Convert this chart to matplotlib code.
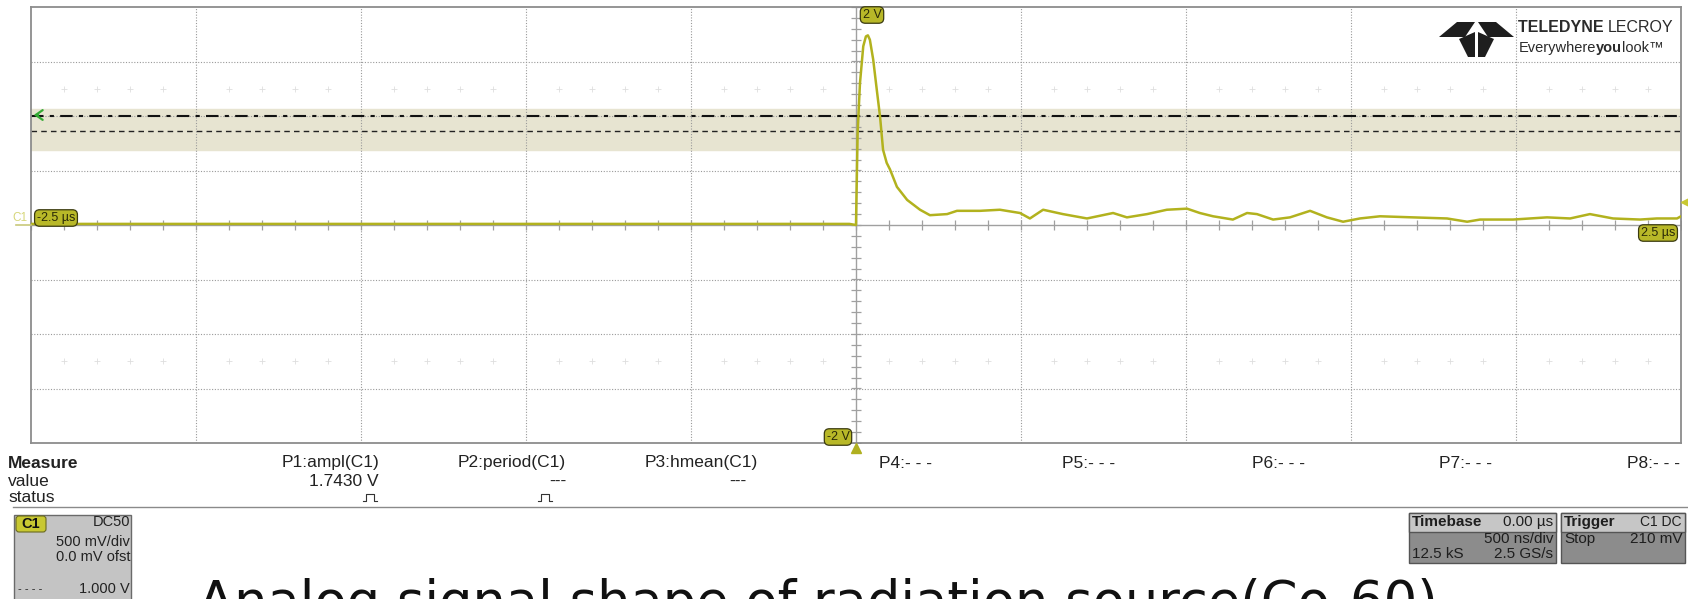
import numpy as np
import matplotlib
matplotlib.use("Agg")
import matplotlib.pyplot as plt
from matplotlib.patches import Rectangle, Polygon, FancyBboxPatch

plt.rcParams['font.family'] = ['Liberation Sans', 'DejaVu Sans']

# captured trace (time in us, amplitude in V)
t_us = [-2.5, -2.0, -1.5, -1.0, -0.5, -0.02, 0.0, 0.002, 0.005, 0.012, 0.022,
        0.030, 0.036, 0.042, 0.052, 0.063, 0.073, 0.082, 0.093, 0.103, 0.124,
        0.155, 0.194, 0.224, 0.276, 0.306, 0.376, 0.436, 0.497, 0.527, 0.567,
        0.627, 0.700, 0.779, 0.821, 0.882, 0.942, 1.003, 1.042, 1.082, 1.142,
        1.185, 1.215, 1.264, 1.315, 1.376, 1.427, 1.476, 1.527, 1.588, 1.688,
        1.791, 1.852, 1.891, 1.991, 2.094, 2.164, 2.224, 2.294, 2.376, 2.427,
        2.488, 2.5]
volts = [0.01, 0.01, 0.01, 0.01, 0.01, 0.01, 0.0, 0.35, 0.85, 1.30, 1.64,
         1.73, 1.74, 1.70, 1.52, 1.24, 0.99, 0.69, 0.57, 0.51, 0.35,
         0.23, 0.14, 0.09, 0.10, 0.13, 0.13, 0.14, 0.11, 0.06, 0.14,
         0.10, 0.06, 0.11, 0.07, 0.10, 0.14, 0.15, 0.11, 0.08, 0.05,
         0.11, 0.10, 0.05, 0.07, 0.13, 0.07, 0.03, 0.06, 0.08, 0.07,
         0.06, 0.03, 0.05, 0.05, 0.07, 0.06, 0.10, 0.06, 0.05, 0.06,
         0.06, 0.08]

# screen settings
time_div = 0.5      # us / div
volt_div = 0.5      # V / div
n_hdiv, n_vdiv = 10, 8
band_lo, band_hi = 0.69, 1.06
level_dashdot = 1.0
level_dashed = 0.865

meas_names = ['P1:ampl(C1)', 'P2:period(C1)', 'P3:hmean(C1)', 'P4:- - -',
              'P5:- - -', 'P6:- - -', 'P7:- - -', 'P8:- - -']
meas_values = ['1.7430 V', '---', '---', '', '', '', '', '']
meas_status = [True, True, False, False, False, False, False, False]
name_right = [379, 566, 758, 932, 1115, 1305, 1492, 1680]
value_right = [379, 566, 746, 0, 0, 0, 0, 0]
status_x = [370, 545, 0, 0, 0, 0, 0, 0]

title = "Analog signal shape of radiation source(Co-60)"

W, H = 1688, 599
fig = plt.figure(figsize=(W / 100, H / 100), dpi=100, facecolor='white')

# ---- scope screen ----
ax = fig.add_axes([31 / W, 1 - 443 / H, 1650 / W, 436 / H])
xmax = time_div * n_hdiv / 2
ymax = volt_div * n_vdiv / 2
ax.set_xlim(-xmax, xmax)
ax.set_ylim(-ymax, ymax)
ax.set_xticks([])
ax.set_yticks([])
for sp in ax.spines.values():
    sp.set_color('#8c8c8c')
    sp.set_linewidth(1.3)

ax.axhspan(band_lo, band_hi, color='#e7e4d1', zorder=0)

grid_c = '#9a9a9a'
for gx in np.arange(-xmax + time_div, xmax, time_div):
    if abs(gx) > 1e-9:
        ax.axvline(gx, color=grid_c, lw=0.8, ls=(0, (1, 1.5)), zorder=1)
for gy in np.arange(-ymax + volt_div, ymax, volt_div):
    if abs(gy) > 1e-9:
        ax.axhline(gy, color=grid_c, lw=0.8, ls=(0, (1, 1.5)), zorder=1)

ax.axhline(0, color='#a0a0a0', lw=1.0, zorder=1)
ax.axvline(0, color='#a0a0a0', lw=1.0, zorder=1)
xt = np.arange(-xmax, xmax + 1e-9, time_div / 5)
yt = np.arange(-ymax, ymax + 1e-9, volt_div / 5)
ax.plot(xt, np.zeros_like(xt), ls='none', marker='|', ms=7, mew=0.9, color='#a0a0a0', zorder=1)
ax.plot(np.zeros_like(yt), yt, ls='none', marker='_', ms=7, mew=0.9, color='#a0a0a0', zorder=1)
xf = xt[np.abs(np.round(xt / time_div) * time_div - xt) > 1e-6]
for fy in (2.5 * volt_div, -2.5 * volt_div):
    ax.plot(xf, np.full_like(xf, fy), ls='none', marker='+', ms=5, mew=0.6, color='#dedede', zorder=1)

ax.axhline(level_dashdot, color='#111111', lw=1.5, ls=(0, (6, 3, 2, 3)), zorder=2)
ax.axhline(level_dashed, color='#222222', lw=1.0, ls=(0, (4, 3)), zorder=2)

ax.plot(t_us, volts, color='#b2b21e', lw=1.8, zorder=3)

# ---- overlay in pixel coordinates for the instrument panels ----
ov = fig.add_axes([0, 0, 1, 1])
ov.set_xlim(0, W)
ov.set_ylim(H, 0)
ov.axis('off')

tag = dict(boxstyle='round,pad=0.18,rounding_size=0.4', fc='#b8b828', ec='#3a3a10', lw=0.9)
tag_kw = dict(fontsize=9, color='#2a2a08', ha='center', va='center', bbox=tag)
ov.text(872, 15, '2 V', **tag_kw)
ov.text(838, 437, '-2 V', **tag_kw)
ov.text(56, 218, '-2.5 µs', **tag_kw)
ov.text(1658, 233, '2.5 µs', **tag_kw)

ov.text(20, 218, 'C1', fontsize=8.5, color='#d6d67a', ha='center', va='center')
ov.plot([16, 31], [225, 225], color='#c8c87a', lw=1.2)
ov.annotate('', xy=(31, 115), xytext=(41, 115),
            arrowprops=dict(arrowstyle='->,head_width=0.35,head_length=0.5', color='#33aa33', lw=1.6))
ov.plot(1686, 202, marker='<', ms=7, color='#c8c832', clip_on=False)
ov.plot(856, 448, marker='^', ms=7, color='#b0b020')

# logo
logo_c = '#1e1e1e'
for pts in ([(1439, 37), (1457, 22), (1475, 22), (1465, 37)],
            [(1514, 37), (1496, 22), (1478, 22), (1488, 37)],
            [(1459, 39), (1475, 32), (1475, 57), (1468, 57)],
            [(1494, 39), (1478, 32), (1478, 57), (1485, 57)]):
    ov.add_patch(Polygon(pts, closed=True, fc=logo_c, ec='none'))
t1 = ov.text(1518, 32, 'TELEDYNE ', fontsize=11.5, fontweight='bold', color='#2b2b2b', va='baseline')
ov.annotate('LECROY', xy=(1, 0), xycoords=t1, fontsize=11.5, color='#2b2b2b', va='bottom')
e1 = ov.text(1519, 52, 'Everywhere', fontsize=10.5, color='#2b2b2b', va='baseline')
e2 = ov.annotate('you', xy=(1, 0), xycoords=e1, fontsize=10.5, fontweight='bold', color='#2b2b2b', va='bottom')
ov.annotate('look™', xy=(1, 0), xycoords=e2, fontsize=10.5, color='#2b2b2b', va='bottom')

# measurement table
fs = 12.5
ov.text(8, 463, 'Measure', fontsize=fs, fontweight='bold', color='#222222', va='center')
ov.text(8, 481, 'value', fontsize=fs, color='#222222', va='center')
ov.text(8, 498, 'status', fontsize=fs, color='#222222', va='center')
for name, val, st, xr, xv, xs in zip(meas_names, meas_values, meas_status,
                                     name_right, value_right, status_x):
    ov.text(xr, 463, name, fontsize=fs, color='#222222', ha='right', va='center')
    if val:
        ov.text(xv, 481, val, fontsize=fs, color='#222222', ha='right', va='center')
    if st:
        ov.plot([xs - 7, xs - 4, xs - 4, xs + 4, xs + 4, xs + 7],
                [501, 501, 494, 494, 501, 501], color='#333333', lw=0.8)
ov.plot([13, W], [507, 507], color='#8a8a8a', lw=1.0)

# channel descriptor
cfs = 10.5
ov.add_patch(Rectangle((14, 515), 117, 90, fc='#c4c4c4', ec='#6a6a6a', lw=1.0))
ov.add_patch(FancyBboxPatch((16, 516), 30, 16, boxstyle='round,pad=0,rounding_size=3',
                            fc='#c8c832', ec='#6a6a20', lw=0.8))
ov.text(31, 524, 'C1', fontsize=cfs, fontweight='bold', color='#111111', ha='center', va='center')
ov.text(130, 522, 'DC50', fontsize=cfs, color='#222222', ha='right', va='center')
ov.text(130, 542, '500 mV/div', fontsize=cfs, color='#222222', ha='right', va='center')
ov.text(130, 557, '0.0 mV ofst', fontsize=cfs, color='#222222', ha='right', va='center')
ov.text(18, 589, '- - - -', fontsize=8, color='#222222', ha='left', va='center')
ov.text(130, 589, '1.000 V', fontsize=cfs, color='#222222', ha='right', va='center')

# timebase / trigger panels
tfs = 11
for x0, w in ((1409, 147), (1561, 124)):
    ov.add_patch(Rectangle((x0, 513), w, 50, fc='#8c8c8c', ec='#555555', lw=1.0))
    ov.add_patch(Rectangle((x0, 513), w, 19, fc='#c6c6c6', ec='#555555', lw=1.0))
ov.text(1412, 522, 'Timebase', fontsize=tfs, fontweight='bold', color='#1e1e1e', va='center')
ov.text(1553, 522, '0.00 µs', fontsize=tfs, color='#1e1e1e', ha='right', va='center')
ov.text(1553, 539, '500 ns/div', fontsize=tfs, color='#1e1e1e', ha='right', va='center')
ov.text(1412, 554, '12.5 kS', fontsize=tfs, color='#1e1e1e', va='center')
ov.text(1553, 554, '2.5 GS/s', fontsize=tfs, color='#1e1e1e', ha='right', va='center')
ov.text(1564, 522, 'Trigger', fontsize=tfs, fontweight='bold', color='#1e1e1e', va='center')
ov.text(1682, 522, 'C1 DC', fontsize=10, color='#1e1e1e', ha='right', va='center')
ov.text(1564, 539, 'Stop', fontsize=tfs, color='#1e1e1e', va='center')
ov.text(1682, 539, '210 mV', fontsize=tfs, color='#1e1e1e', ha='right', va='center')

# caption (bottom part falls off the canvas, as in the screenshot)
ov.text(198, 619, title, fontsize=38, family='DejaVu Sans', color='#111111',
        ha='left', va='baseline')

fig.savefig('out.png', dpi=100, facecolor='white')
